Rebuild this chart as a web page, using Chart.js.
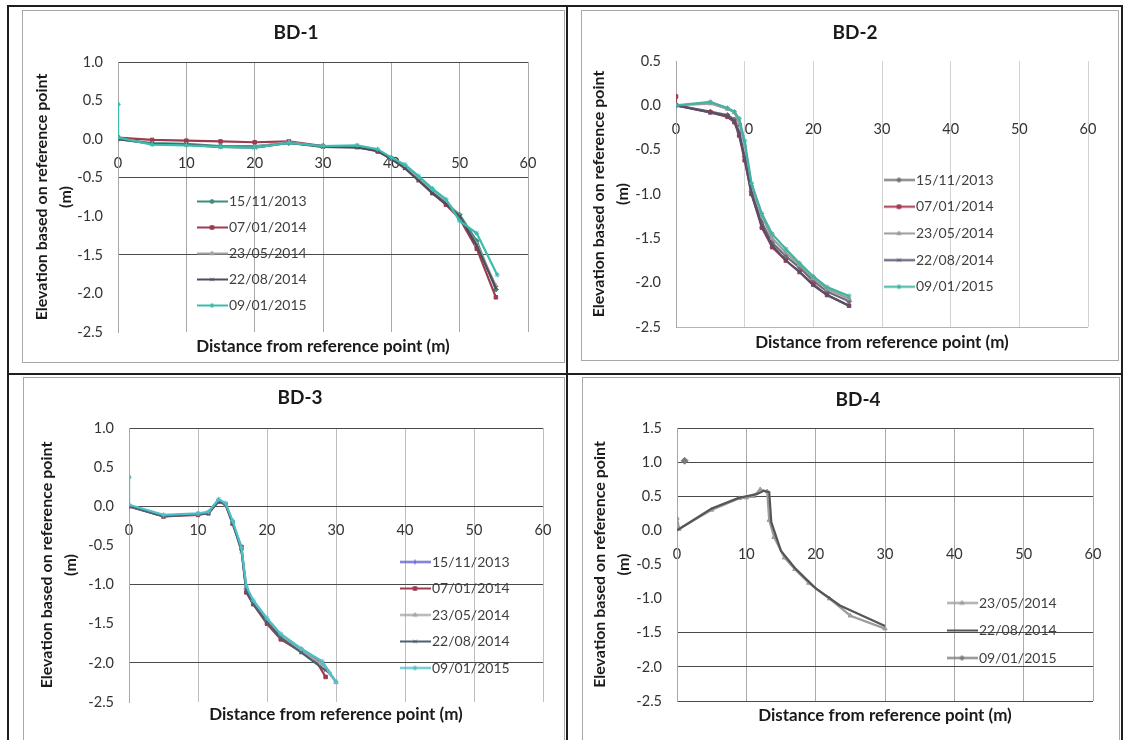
<!DOCTYPE html>
<html>
<head>
<meta charset="utf-8">
<script src="https://cdn.jsdelivr.net/npm/chart.js"></script>
<style>
  html, body { margin: 0; padding: 0; background: #fff; }
  body { position: relative; width: 1125px; height: 740px; overflow: hidden; }
  .rule { position: absolute; background: #1e1e1e; }
  .frame { position: absolute; border: 1px solid #a8a8a8; box-sizing: border-box; }
  canvas { position: absolute; }
</style>
</head>
<body>
<!-- table lines -->
<div class="rule" style="left:7px;top:5px;width:1116px;height:2px"></div>
<div class="rule" style="left:7px;top:5px;width:2px;height:735px"></div>
<div class="rule" style="left:566px;top:5px;width:2px;height:735px"></div>
<div class="rule" style="left:1121px;top:5px;width:2px;height:735px"></div>
<div class="rule" style="left:7px;top:373px;width:1116px;height:2px"></div>
<!-- chart frames -->
<div class="frame" style="left:22px;top:10px;width:543px;height:353px"></div>
<div class="frame" style="left:581px;top:10px;width:538px;height:351px"></div>
<div class="frame" style="left:23px;top:377px;width:542px;height:370px"></div>
<div class="frame" style="left:582px;top:377px;width:538px;height:370px"></div>

<canvas id="bd1" width="546" height="350" style="left:23px;top:11px"></canvas>
<canvas id="bd2" width="546" height="349" style="left:582px;top:11px"></canvas>
<canvas id="bd3" width="552" height="362" style="left:24px;top:378px"></canvas>
<canvas id="bd4" width="550" height="362" style="left:583px;top:378px"></canvas>

<script>
// survey dates
const dates = ["15/11/2013", "07/01/2014", "23/05/2014", "22/08/2014", "09/01/2015"];

// BD-1
const bd1Dist = [0, 5, 10, 15, 20, 25, 30, 35, 38, 40, 42, 44, 46, 48, 50, 52.5, 55.3];
const bd1DistTop = [0, 0, 5, 10, 15, 20, 25, 30, 35, 38, 40, 42, 44, 46, 48, 50, 52.5, 55.3];
const bd1DistTop2 = [0, 0, 5, 10, 15, 20, 25, 30, 35, 38, 40, 42, 44, 46, 48, 50, 52.5, 55.5];
const bd1_151113 = [0.0, -0.05, -0.06, -0.09, -0.09, -0.05, -0.09, -0.1, -0.15, -0.24, -0.36, -0.52, -0.68, -0.83, -0.98, -1.32, -1.95];
const bd1_070114 = [0.02, -0.01, -0.02, -0.03, -0.04, -0.03, -0.09, -0.1, -0.16, -0.25, -0.37, -0.53, -0.7, -0.85, -1.03, -1.42, -2.05];
const bd1_230514 = [0.46, 0.0, -0.06, -0.07, -0.1, -0.1, -0.04, -0.1, -0.09, -0.14, -0.26, -0.36, -0.5, -0.66, -0.8, -1.0, -1.36, -1.9];
const bd1_220814 = [0.0, -0.06, -0.07, -0.1, -0.11, -0.05, -0.1, -0.11, -0.15, -0.26, -0.38, -0.54, -0.7, -0.84, -1.0, -1.38, -1.93];
const bd1_090115 = [0.45, 0.02, -0.07, -0.08, -0.1, -0.11, -0.05, -0.09, -0.08, -0.13, -0.24, -0.33, -0.48, -0.64, -0.78, -1.06, -1.22, -1.76];

// BD-2
const bd2Dist = [0, 5, 7.5, 8.5, 9.2, 10, 11, 12.5, 14, 16, 18, 20, 22, 25.2];
const bd2DistTop = [0, 0, 5, 7.5, 8.5, 9.2, 10, 11, 12.5, 14, 16, 18, 20, 22, 25.2];
const bd2_151113 = [0.0, -0.07, -0.11, -0.16, -0.3, -0.58, -0.97, -1.32, -1.55, -1.7, -1.83, -1.98, -2.1, -2.21];
const bd2_070114 = [0.1, 0.0, -0.08, -0.13, -0.19, -0.34, -0.62, -1.0, -1.38, -1.6, -1.75, -1.88, -2.02, -2.14, -2.26];
const bd2_230514 = [0.0, 0.02, -0.04, -0.08, -0.2, -0.45, -0.9, -1.25, -1.5, -1.66, -1.8, -1.95, -2.07, -2.18];
const bd2_220814 = [0.0, -0.08, -0.12, -0.18, -0.32, -0.6, -1.0, -1.36, -1.58, -1.75, -1.88, -2.03, -2.14, -2.26];
const bd2_090115 = [0.0, 0.04, -0.03, -0.07, -0.15, -0.4, -0.88, -1.22, -1.45, -1.62, -1.78, -1.93, -2.05, -2.15];

// BD-3
const bd3DistA = [0, 5, 10, 11.5, 13, 14, 15, 16.3, 17, 18, 20, 22, 25, 28, 29];
const bd3DistB = [0, 5, 10, 11.5, 13, 14, 15, 16.3, 17, 18, 20, 22, 25, 27, 28.5];
const bd3DistC = [0, 5, 10, 11.5, 13, 14, 15, 16.3, 17, 18, 20, 22, 25, 28.5];
const bd3DistTop = [0, 0, 5, 10, 11.5, 13, 14, 15, 16.3, 17, 18, 20, 22, 25, 28, 30];
const bd3_151113 = [0.0, -0.12, -0.1, -0.08, 0.08, 0.03, -0.2, -0.55, -1.05, -1.22, -1.45, -1.65, -1.84, -2.0, -2.12];
const bd3_070114 = [0.0, -0.13, -0.11, -0.09, 0.06, 0.02, -0.22, -0.52, -1.1, -1.25, -1.5, -1.7, -1.86, -1.96, -2.18];
const bd3_230514 = [0.38, 0.0, -0.12, -0.1, -0.08, 0.08, 0.02, -0.2, -0.55, -1.05, -1.22, -1.45, -1.66, -1.85, -2.02, -2.25];
const bd3_220814 = [0.0, -0.13, -0.1, -0.09, 0.07, 0.02, -0.21, -0.57, -1.08, -1.25, -1.48, -1.68, -1.87, -2.1];
const bd3_090115 = [0.37, 0.02, -0.11, -0.09, -0.07, 0.09, 0.04, -0.18, -0.53, -1.02, -1.2, -1.43, -1.63, -1.82, -1.98, -2.24];

// BD-4
const bd4DistA = [0, 0.3, 5, 9, 10, 11, 12, 13, 13.3, 14, 15.5, 17, 19, 22, 25, 30];
const bd4DistB = [0, 5, 9, 10, 11.5, 12.5, 13.3, 13.6, 15, 17, 20, 23.5, 25, 30];
const bd4DistC = [1.1];
const bd4_230514 = [0.18, 0.02, 0.3, 0.47, 0.48, 0.5, 0.6, 0.57, 0.15, -0.1, -0.4, -0.57, -0.77, -1.0, -1.25, -1.44];
const bd4_220814 = [0.0, 0.32, 0.48, 0.5, 0.53, 0.58, 0.56, 0.12, -0.3, -0.55, -0.85, -1.1, -1.17, -1.4];
const bd4_090115 = [1.02];

Chart.defaults.font.family = 'Lato, "Open Sans", sans-serif';

// Excel-like legend key: short line with the marker in the middle
function swatch(color, marker) {
  const c = document.createElement("canvas");
  c.width = 31; c.height = 9;
  const g = c.getContext("2d");
  g.strokeStyle = color; g.fillStyle = color; g.lineWidth = 2;
  g.beginPath(); g.moveTo(0, 4.5); g.lineTo(31, 4.5); g.stroke();
  if (marker && Chart.helpers && Chart.helpers.drawPoint) {
    g.lineWidth = 1;
    Chart.helpers.drawPoint(g, { pointStyle: marker, radius: 2.5, borderWidth: 1 }, 15.5, 4.5);
  }
  return c;
}

// puts the legend where the first label text should start
const legendSpot = {
  id: "legendSpot",
  beforeDraw(chart, args, opts) {
    const lg = chart.legend;
    if (!lg || opts.textX === undefined) return;
    const lab = lg.options.labels;
    const fs = lab.font.size;
    const left = opts.textX - lab.pointStyleWidth - fs / 2 - lab.padding;
    const top = opts.textY - fs / 2 - lab.padding;
    const dx = left - lg.left, dy = top - lg.top;
    lg.left += dx; lg.right += dx; lg.top += dy; lg.bottom += dy;
  }
};

function near(list, v) {
  return list.some(a => Math.abs(a - v) < 1e-6);
}

function build(id, p) {
  const datasets = p.series.map((s, i) => ({
    label: s.label,
    data: s.x.map((x, k) => ({ x: x, y: s.y[k] })),
    showLine: true,
    borderColor: s.color,
    backgroundColor: s.color,
    borderWidth: 2.2,
    pointStyle: s.marker || "circle",
    pointRadius: s.marker ? (s.size || 2.5) : 0,
    pointBorderWidth: 1,
    order: p.series.length - i
  }));

  new Chart(document.getElementById(id), {
    type: "scatter",
    data: { datasets: datasets },
    plugins: [legendSpot],
    options: {
      responsive: false,
      animation: false,
      layout: { padding: 0 },
      scales: {
        x: {
          type: "linear",
          position: { y: 0 },
          min: 0, max: 60,
          ticks: { stepSize: 10, padding: 15, color: "#333333", font: { size: 14.5 } },
          grid: { color: p.vgrid, drawTicks: false },
          border: { display: false }
        },
        y: {
          type: "linear",
          position: "left",
          min: p.yMin, max: p.yMax,
          afterFit: s => { s.width = p.yWidth; },
          ticks: {
            stepSize: 0.5, padding: 15, color: "#333333", font: { size: 14.5 },
            callback: v => v.toFixed(1)
          },
          grid: {
            drawTicks: false,
            color: c => near(p.hgrid, c.tick.value) ? p.hcolor : "rgba(0,0,0,0)"
          },
          border: { color: "#a8a8a8" },
          title: {
            display: true,
            text: ["Elevation based on reference point", "(m)"],
            color: "#1a1a1a",
            font: { size: 16, weight: "bold", lineHeight: 1.5 },
            padding: { top: p.yTitlePad, bottom: 0 }
          }
        },
        yr: {
          type: "linear",
          position: "right",
          afterFit: s => { s.width = p.padRight; },
          ticks: { display: false },
          grid: { display: false },
          border: { display: false }
        }
      },
      plugins: {
        title: {
          display: true,
          text: p.title,
          color: "#1a1a1a",
          font: { size: 19, weight: "bold" },
          padding: { top: p.titlePad[0], bottom: p.titlePad[1] }
        },
        subtitle: {
          display: true,
          text: "Distance from reference point (m)",
          position: "bottom",
          fullSize: false,
          color: "#1a1a1a",
          font: { size: 17, weight: "bold" },
          padding: { top: p.xTitlePad[0], bottom: p.xTitlePad[1] }
        },
        legend: {
          position: "chartArea",
          align: "start",
          labels: {
            usePointStyle: true,
            pointStyleWidth: 20,
            padding: p.legendGap,
            color: "#404040",
            font: { size: 14 },
            generateLabels: chart => chart.data.datasets.map((ds, i) => ({
              text: ds.label,
              fillStyle: ds.borderColor,
              strokeStyle: ds.borderColor,
              lineWidth: 0,
              hidden: false,
              datasetIndex: i,
              fontColor: "#404040",
              pointStyle: swatch(ds.borderColor, p.series[i].marker)
            }))
          }
        },
        legendSpot: { textX: p.legendAt[0], textY: p.legendAt[1] },
        tooltip: { enabled: false }
      }
    }
  });
}

build("bd1", {
  title: "BD-1", yMin: -2.5, yMax: 1.0, yWidth: 95, padRight: 41, yTitlePad: 7,
  titlePad: [10.6, 17.6], xTitlePad: [4.8, 3.8],
  vgrid: "#a9a9a9", hgrid: [1.0, -0.5, -1.5], hcolor: "#4a4a4a",
  legendAt: [206, 190.5], legendGap: 12,
  series: [
    { label: dates[0], x: bd1Dist, y: bd1_151113, color: "#3d8c7c", marker: "rectRot" },
    { label: dates[1], x: bd1Dist, y: bd1_070114, color: "#9e3b4f", marker: "rect" },
    { label: dates[2], x: bd1DistTop, y: bd1_230514, color: "#a3a3a3", marker: "triangle" },
    { label: dates[3], x: bd1Dist, y: bd1_220814, color: "#4d4d5e", marker: "crossRot" },
    { label: dates[4], x: bd1DistTop2, y: bd1_090115, color: "#3bbcae", marker: "star" }
  ]
});

build("bd2", {
  title: "BD-2", yMin: -2.5, yMax: 0.5, yWidth: 94, padRight: 40, yTitlePad: 5,
  titlePad: [10.6, 16.6], xTitlePad: [5.8, 6.8],
  vgrid: "#d2d2d2", hgrid: [-2.5], hcolor: "#b4b4b4",
  legendAt: [334, 169], legendGap: 12.7,
  series: [
    { label: dates[0], x: bd2Dist, y: bd2_151113, color: "#6c6f74", marker: "rectRot" },
    { label: dates[1], x: bd2DistTop, y: bd2_070114, color: "#a4384f", marker: "rect" },
    { label: dates[2], x: bd2Dist, y: bd2_230514, color: "#9d9d9d", marker: "triangle" },
    { label: dates[3], x: bd2Dist, y: bd2_220814, color: "#574f6e", marker: "crossRot" },
    { label: dates[4], x: bd2Dist, y: bd2_090115, color: "#41b3a3", marker: "star" }
  ]
});

build("bd3", {
  title: "BD-3", yMin: -2.5, yMax: 1.0, yWidth: 105, padRight: 33, yTitlePad: 11,
  titlePad: [8.6, 18.6], xTitlePad: [2.8, 14.8],
  vgrid: "#bdbdbd", hgrid: [1.0, 0.0, -1.0, -2.0], hcolor: "#4a4a4a",
  legendAt: [408, 184], legendGap: 12.5,
  series: [
    { label: dates[0], x: bd3DistA, y: bd3_151113, color: "#5d5ccf", marker: "cross" },
    { label: dates[1], x: bd3DistB, y: bd3_070114, color: "#a03a4c", marker: "rect" },
    { label: dates[2], x: bd3DistTop, y: bd3_230514, color: "#a5a5a5", marker: "triangle" },
    { label: dates[3], x: bd3DistC, y: bd3_220814, color: "#4b6070", marker: "crossRot" },
    { label: dates[4], x: bd3DistTop, y: bd3_090115, color: "#4ec0c8", marker: "star" }
  ]
});

build("bd4", {
  title: "BD-4", yMin: -2.5, yMax: 1.5, yWidth: 94, padRight: 40, yTitlePad: 5,
  titlePad: [10.6, 16.6], xTitlePad: [4.8, 13.8],
  vgrid: "#ababab", hgrid: [1.5, 1.0, 0.5, -1.5, -2.0, -2.5], hcolor: "#4a4a4a",
  legendAt: [396, 225], legendGap: 13.5,
  series: [
    { label: dates[2], x: bd4DistA, y: bd4_230514, color: "#9c9c9c", marker: "triangle" },
    { label: dates[3], x: bd4DistB, y: bd4_220814, color: "#555555", marker: null },
    { label: dates[4], x: bd4DistC, y: bd4_090115, color: "#7a7a7a", marker: "rectRot", size: 3.5 }
  ]
});
</script>
</body>
</html>
